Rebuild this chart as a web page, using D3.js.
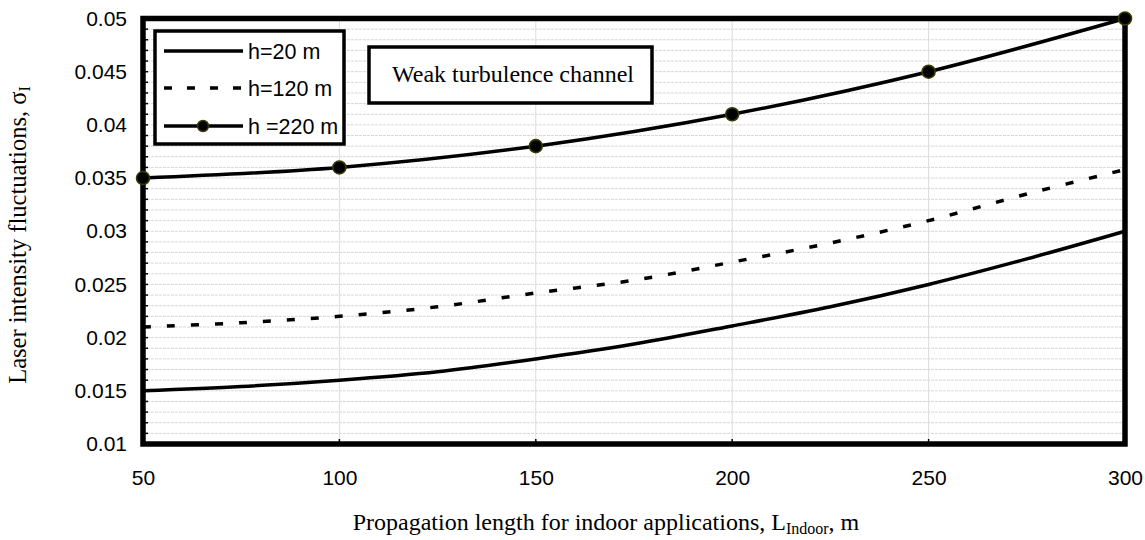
<!DOCTYPE html>
<html>
<head>
<meta charset="utf-8">
<script src="https://cdn.jsdelivr.net/npm/d3@7"></script>
<style>
  html, body { margin: 0; padding: 0; background: #fff; }
  svg { display: block; }
</style>
</head>
<body>
<svg id="chart" width="1145" height="540"></svg>
<script>
// Propagation length (m) and scintillation index for three heights
const lengthFine = [50, 75, 100, 125, 150, 175, 200, 225, 250, 275, 300];
const h20 = [0.015, 0.0154, 0.016, 0.0168, 0.018, 0.0194, 0.0211, 0.0229, 0.025, 0.0274, 0.030];
const h120 = [0.021, 0.0214, 0.022, 0.0229, 0.0242, 0.0254, 0.0271, 0.0289, 0.031, 0.0335, 0.0358];
const lengthCoarse = [50, 100, 150, 200, 250, 300];
const h220 = [0.035, 0.036, 0.038, 0.041, 0.045, 0.050];

const xTicks = [50, 100, 150, 200, 250, 300];
const yTicks = [0.01, 0.015, 0.02, 0.025, 0.03, 0.035, 0.04, 0.045, 0.05];
const yTickLabels = ["0.01", "0.015", "0.02", "0.025", "0.03", "0.035", "0.04", "0.045", "0.05"];
const legendLabels = ["h=20 m", "h=120 m", "h =220 m"];

const svg = d3.select("#chart");
const plotL = 143, plotR = 1125, plotT = 18.5, plotB = 444;

const x = d3.scaleLinear().domain([50, 300]).range([plotL, plotR]);
const y = d3.scaleLinear().domain([0.01, 0.05]).range([plotB, plotT]);

// Minor horizontal gridlines every 0.001
const minorY = d3.range(0, 41).map(i => +(0.01 + i * 0.001).toFixed(4));
svg.append("g").selectAll("line").data(minorY).join("line")
  .attr("x1", plotL).attr("x2", plotR)
  .attr("y1", d => y(d)).attr("y2", d => y(d))
  .attr("stroke", "#d6d6d6").attr("stroke-width", 1)
  .attr("stroke-dasharray", "3,1");

// Vertical gridlines at major x ticks
svg.append("g").selectAll("line").data(xTicks).join("line")
  .attr("x1", d => x(d)).attr("x2", d => x(d))
  .attr("y1", plotT).attr("y2", plotB)
  .attr("stroke", "#dcdcdc").attr("stroke-width", 1);

// Y axis: inward minor ticks, labels on the left
const yAxis = d3.axisLeft(y)
  .tickValues(yTicks)
  .tickFormat((d, i) => yTickLabels[i])
  .tickSize(0)
  .tickPadding(16);
const gy = svg.append("g").attr("transform", `translate(${plotL},0)`).call(yAxis);
gy.select(".domain").remove();
gy.selectAll("text")
  .attr("font-family", "Liberation Sans, Arial, sans-serif")
  .attr("font-size", 21).attr("fill", "#000");

svg.append("g").selectAll("line").data(minorY).join("line")
  .attr("x1", plotL).attr("x2", plotL + 5)
  .attr("y1", d => y(d)).attr("y2", d => y(d))
  .attr("stroke", "#000").attr("stroke-width", 1.5);

// X axis: inward ticks, labels below
const xAxis = d3.axisBottom(x).tickValues(xTicks).tickSize(0).tickPadding(26);
const gx = svg.append("g").attr("transform", `translate(0,${plotB})`).call(xAxis);
gx.select(".domain").remove();
gx.selectAll("text")
  .attr("font-family", "Liberation Sans, Arial, sans-serif")
  .attr("font-size", 21).attr("fill", "#000");
svg.append("g").selectAll("line").data(xTicks).join("line")
  .attr("x1", d => x(d)).attr("x2", d => x(d))
  .attr("y1", plotB).attr("y2", plotB - 5)
  .attr("stroke", "#000").attr("stroke-width", 1.5);

// Series lines
const line = (xs) => d3.line()
  .x((d, i) => x(xs[i]))
  .y(d => y(d))
  .curve(d3.curveCatmullRom.alpha(0.5));

svg.append("path").datum(h20)
  .attr("d", line(lengthFine))
  .attr("fill", "none").attr("stroke", "#000").attr("stroke-width", 3.5);

svg.append("path").datum(h120)
  .attr("d", line(lengthFine))
  .attr("fill", "none").attr("stroke", "#000").attr("stroke-width", 3.5)
  .attr("stroke-dasharray", "8,16");

svg.append("path").datum(h220)
  .attr("d", line(lengthCoarse))
  .attr("fill", "none").attr("stroke", "#000").attr("stroke-width", 3.5);

// Plot frame
svg.append("rect")
  .attr("x", plotL).attr("y", plotT)
  .attr("width", plotR - plotL).attr("height", plotB - plotT)
  .attr("fill", "none").attr("stroke", "#000").attr("stroke-width", 5.5);

// Markers for h = 220 m
svg.append("g").selectAll("circle").data(h220).join("circle")
  .attr("cx", (d, i) => x(lengthCoarse[i]))
  .attr("cy", d => y(d))
  .attr("r", 6.5)
  .attr("fill", "#000").attr("stroke", "#3a3a00").attr("stroke-width", 1.6);

// Legend
const lg = svg.append("g");
lg.append("rect")
  .attr("x", 155).attr("y", 31).attr("width", 189).attr("height", 113)
  .attr("fill", "#fff").attr("stroke", "#000").attr("stroke-width", 3.5);
const legendY = [51, 88, 126];
const dashes = [null, "8,15", null];
legendLabels.forEach((lab, i) => {
  lg.append("line")
    .attr("x1", 164).attr("x2", 243)
    .attr("y1", legendY[i]).attr("y2", legendY[i])
    .attr("stroke", "#000").attr("stroke-width", 3.5)
    .attr("stroke-dasharray", dashes[i]);
  if (i === 2) {
    lg.append("circle").attr("cx", 203).attr("cy", legendY[i]).attr("r", 5.5)
      .attr("fill", "#000").attr("stroke", "#3a3a00").attr("stroke-width", 1.5);
  }
  lg.append("text")
    .attr("x", 248).attr("y", legendY[i]).attr("dy", "0.36em")
    .attr("font-family", "Liberation Sans, Arial, sans-serif")
    .attr("font-size", 21.5).attr("fill", "#000")
    .text(lab);
});

// Annotation box
svg.append("rect")
  .attr("x", 369).attr("y", 47).attr("width", 283).attr("height", 56)
  .attr("fill", "#fff").attr("stroke", "#000").attr("stroke-width", 3.5);
svg.append("text")
  .attr("x", 513).attr("y", 82).attr("text-anchor", "middle")
  .attr("font-family", "Liberation Serif, Times New Roman, serif")
  .attr("font-size", 24).attr("fill", "#000")
  .text("Weak turbulence channel");

// Axis titles
const xt = svg.append("text")
  .attr("x", 606).attr("y", 530).attr("text-anchor", "middle")
  .attr("font-family", "Liberation Serif, Times New Roman, serif")
  .attr("font-size", 24).attr("fill", "#000");
xt.append("tspan").text("Propagation length for indoor applications, L");
xt.append("tspan").attr("font-size", 16).attr("dy", 4).text("Indoor");
xt.append("tspan").attr("dy", -4).text(", m");

const yt = svg.append("text")
  .attr("transform", "translate(26,235) rotate(-90)")
  .attr("text-anchor", "middle")
  .attr("font-family", "Liberation Serif, Times New Roman, serif")
  .attr("font-size", 24.5).attr("fill", "#000");
yt.append("tspan").text("Laser intensity fluctuations, σ");
yt.append("tspan").attr("font-size", 16).attr("dy", 4).text("I");
</script>
</body>
</html>
